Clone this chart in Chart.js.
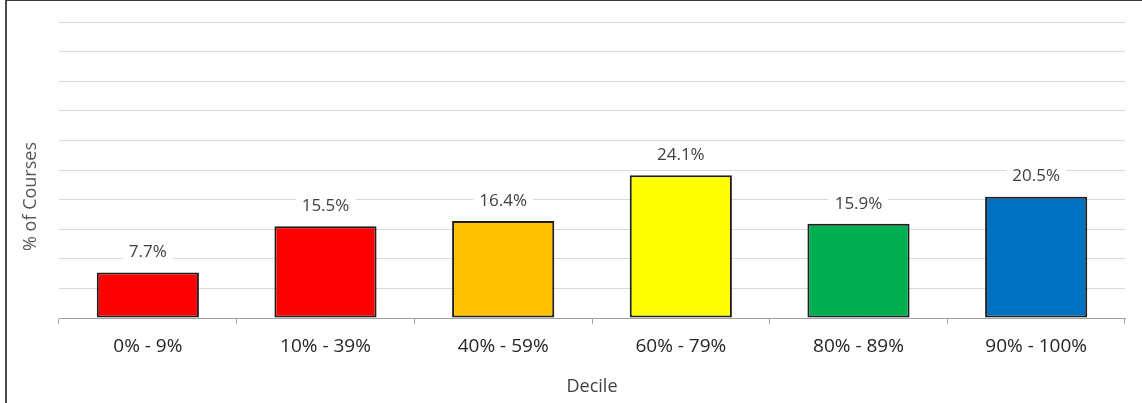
<!DOCTYPE html>
<html>
<head>
<meta charset="utf-8">
<script src="https://cdn.jsdelivr.net/npm/chart.js@4/dist/chart.umd.min.js"></script>
<style>
  html, body { margin: 0; padding: 0; background: #fff; }
  #wrap { position: relative; width: 1142px; height: 403px; overflow: hidden; }
  #frame { position: absolute; left: 5px; top: 0; width: 1200px; height: 500px;
           border-left: 2px solid #4a4a4a; border-top: 1px solid #3a3a3a; pointer-events: none; }
  canvas { position: absolute; left: 0; top: 0; }
</style>
</head>
<body>
<div id="wrap">
  <canvas id="chart" width="1142" height="403"></canvas>
  <div id="frame"></div>
</div>
<script>
// Share of courses per decile band
const categories = ['0% - 9%', '10% - 39%', '40% - 59%', '60% - 79%', '80% - 89%', '90% - 100%'];
const percentCourses = [7.7, 15.5, 16.4, 24.1, 15.9, 20.5];
const barColors = ['#FF0000', '#FF0000', '#FFC000', '#FFFF00', '#00B050', '#0070C0'];
const yTitle = '% of Courses';
const xTitle = 'Decile';

const FONT = "'Open Sans', 'Liberation Sans', sans-serif";

// Value labels sitting on a white box above each bar
const valueLabels = {
  id: 'valueLabels',
  afterDatasetsDraw(chart) {
    const ctx = chart.ctx;
    const meta = chart.getDatasetMeta(0);
    const data = chart.data.datasets[0].data;
    ctx.save();
    ctx.font = '17px ' + FONT;
    ctx.textAlign = 'center';
    ctx.textBaseline = 'middle';
    meta.data.forEach((bar, i) => {
      const text = data[i].toFixed(1) + '%';
      const w = ctx.measureText(text).width + 12;
      const h = 20;
      const cy = bar.y - 20;
      ctx.fillStyle = '#ffffff';
      ctx.fillRect(bar.x - w / 2, cy - h / 2, w, h);
      ctx.fillStyle = '#404040';
      ctx.fillText(text, bar.x, cy);
    });
    ctx.restore();
  }
};

// Vertical axis title, centred on the whole chart height rather than the plot area
const sideTitle = {
  id: 'sideTitle',
  afterDraw(chart) {
    const ctx = chart.ctx;
    ctx.save();
    ctx.translate(31, chart.height / 2 - 5);
    ctx.rotate(-Math.PI / 2);
    ctx.font = '18px ' + FONT;
    ctx.fillStyle = '#595959';
    ctx.textAlign = 'center';
    ctx.textBaseline = 'middle';
    ctx.fillText(yTitle, 0, 0);
    ctx.restore();
  }
};

new Chart(document.getElementById('chart'), {
  type: 'bar',
  data: {
    labels: categories,
    datasets: [{
      data: percentCourses,
      backgroundColor: barColors,
      borderColor: '#1e1e1e',
      borderWidth: 2,
      borderSkipped: false,
      barPercentage: 0.575,
      categoryPercentage: 1.0
    }]
  },
  options: {
    responsive: false,
    animation: false,
    devicePixelRatio: 1,
    layout: { padding: { left: 8, top: 22, right: 17, bottom: 0 } },
    plugins: {
      legend: { display: false },
      tooltip: { enabled: false }
    },
    scales: {
      x: {
        offset: true,
        grid: {
          offset: true,
          drawOnChartArea: false,
          drawTicks: true,
          tickLength: 6,
          color: '#a0a0a0'
        },
        border: { display: true, color: '#a0a0a0', width: 1 },
        ticks: {
          color: '#262626',
          padding: 11,
          font: { family: FONT, size: 19 },
          maxRotation: 0
        },
        title: {
          display: true,
          text: xTitle,
          color: '#404040',
          font: { family: FONT, size: 18 },
          padding: { top: 0, bottom: 5 }
        },
        afterFit(scale) { scale.height = 85; }
      },
      y: {
        min: 0,
        max: 50,
        ticks: { display: false, stepSize: 5 },
        grid: { color: '#d9d9d9', lineWidth: 1, drawTicks: false },
        border: { display: false },
        title: { display: false },
        afterFit(scale) { scale.width = 51; }
      }
    }
  },
  plugins: [valueLabels, sideTitle]
});
</script>
</body>
</html>
